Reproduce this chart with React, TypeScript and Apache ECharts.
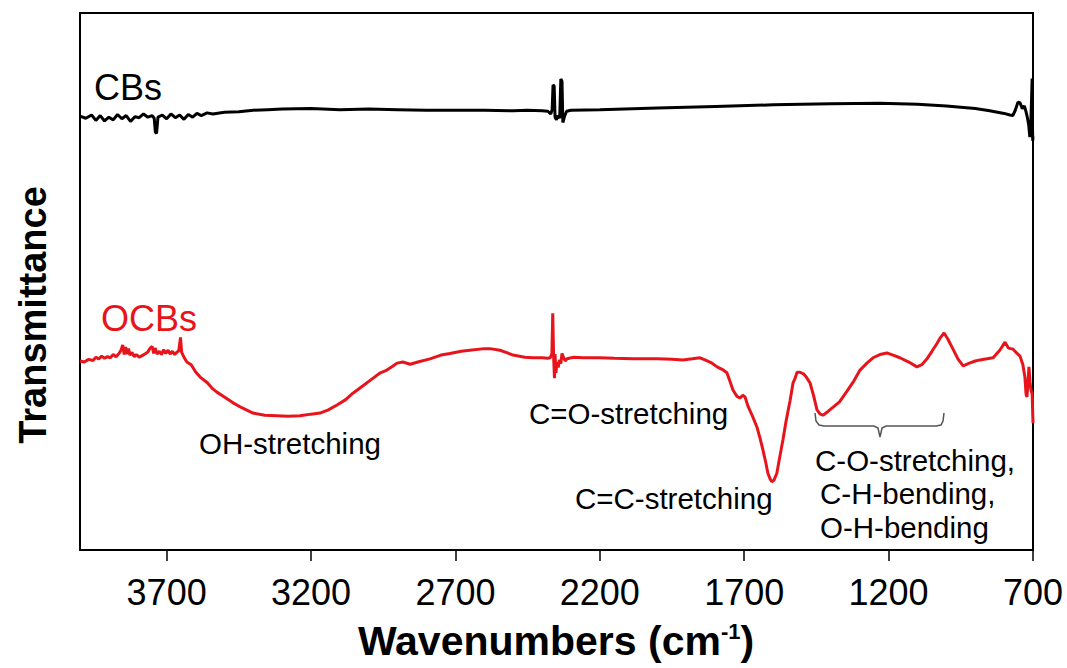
import React, { useEffect, useRef } from "react";
import * as echarts from "echarts";

// FTIR spectra: [wavenumber (cm-1), transmittance (a.u.)]
const cbsSpectrum: [number, number][] = [
  [4000, 80.8], [3980, 80.4], [3960, 81.0], [3945, 80.0], [3930, 80.9], [3915, 79.9],
  [3900, 80.6], [3885, 80.1], [3870, 81.1], [3855, 80.3], [3840, 80.9], [3825, 79.8],
  [3810, 80.7], [3795, 80.5], [3780, 81.2], [3765, 80.6], [3750, 80.9], [3743, 80.4],
  [3739, 77.8], [3735, 77.6], [3730, 80.6], [3715, 81.0], [3700, 80.3], [3685, 81.2],
  [3670, 80.5], [3655, 81.0], [3640, 80.2], [3625, 81.1], [3610, 80.6], [3595, 81.3],
  [3580, 80.9], [3560, 81.4], [3540, 81.2], [3500, 81.5], [3450, 81.6], [3400, 81.9],
  [3350, 82.0], [3300, 82.1], [3200, 82.2], [3100, 82.0], [3000, 82.1], [2900, 82.0],
  [2800, 81.9], [2700, 81.9], [2600, 81.9], [2500, 81.8], [2450, 81.9], [2400, 81.8],
  [2380, 81.7], [2370, 81.2], [2365, 82.0], [2362, 86.6], [2358, 86.4], [2355, 80.6],
  [2350, 80.1], [2345, 80.9], [2339, 80.4], [2335, 87.7], [2331, 87.3], [2328, 79.6],
  [2322, 80.8], [2315, 81.7], [2300, 81.9], [2200, 82.0], [2000, 82.3], [1800, 82.6],
  [1600, 82.9], [1400, 83.1], [1230, 83.2], [1100, 83.0], [1000, 82.7], [900, 82.2],
  [850, 81.8], [800, 81.3], [780, 81.0], [770, 80.9], [762, 81.8], [752, 83.4],
  [745, 83.3], [737, 82.2], [730, 82.7], [724, 81.6], [719, 80.4], [715, 79.2],
  [711, 76.9], [708, 78.6], [705, 84.0], [703, 87.8], [702, 80.0], [701, 76.2], [700, 77.0],
];

const ocbsSpectrum: [number, number][] = [
  [4000, 35.2], [3985, 35.0], [3970, 35.5], [3955, 35.3], [3945, 35.9], [3935, 35.6],
  [3925, 36.1], [3915, 35.7], [3905, 36.0], [3895, 35.8], [3885, 36.4], [3875, 36.0],
  [3865, 36.6], [3858, 37.2], [3852, 38.2], [3847, 36.4], [3842, 37.8], [3837, 36.5],
  [3832, 37.5], [3827, 36.3], [3820, 36.8], [3812, 36.0], [3805, 36.4], [3795, 35.9],
  [3785, 36.2], [3775, 36.5], [3765, 36.9], [3757, 37.6], [3750, 37.9], [3745, 36.6],
  [3740, 37.6], [3733, 36.5], [3725, 37.0], [3718, 36.4], [3710, 37.3], [3703, 36.6],
  [3695, 37.2], [3688, 36.5], [3680, 37.0], [3672, 36.4], [3665, 36.8], [3658, 37.1],
  [3652, 39.6], [3648, 36.8], [3640, 35.9], [3630, 35.0], [3615, 34.5], [3600, 33.2],
  [3584, 32.2], [3560, 31.2], [3540, 30.0], [3526, 29.4], [3500, 28.5], [3470, 27.4],
  [3440, 26.5], [3401, 25.5], [3360, 25.1], [3318, 25.0], [3280, 24.9], [3238, 25.0],
  [3200, 25.3], [3169, 25.5], [3140, 26.1], [3110, 27.0], [3080, 28.0], [3055, 29.2],
  [3020, 30.6], [2985, 32.0], [2960, 33.0], [2937, 33.5], [2915, 34.3], [2902, 34.8],
  [2882, 35.0], [2857, 34.6], [2830, 35.0], [2788, 35.6], [2750, 36.3], [2719, 36.6],
  [2680, 37.0], [2650, 37.2], [2600, 37.5], [2580, 37.5], [2546, 37.2], [2520, 36.7],
  [2501, 36.3], [2460, 35.9], [2431, 35.8], [2400, 35.8], [2380, 35.7], [2372, 35.8],
  [2366, 36.5], [2363, 44.1], [2360, 36.0], [2357, 32.0], [2355, 36.5], [2352, 33.0],
  [2348, 35.0], [2344, 34.0], [2340, 35.4], [2335, 34.7], [2331, 36.6], [2325, 35.8],
  [2320, 35.2], [2314, 35.6], [2290, 35.9], [2258, 35.8], [2200, 35.8], [2150, 35.7],
  [2085, 35.6], [2000, 35.6], [1950, 35.5], [1912, 35.4], [1880, 35.6], [1853, 35.8],
  [1836, 35.4], [1815, 34.9], [1794, 34.1], [1775, 33.6], [1760, 33.0], [1750, 31.5],
  [1739, 29.8], [1725, 28.6], [1715, 28.3], [1705, 28.8], [1697, 28.5], [1687, 26.8],
  [1672, 25.0], [1656, 22.9], [1645, 20.8], [1635, 18.6], [1625, 16.2], [1618, 14.3],
  [1610, 13.2], [1604, 12.7], [1597, 13.0], [1587, 14.3], [1578, 17.0], [1566, 20.5],
  [1555, 24.0], [1541, 27.9], [1531, 31.1], [1525, 31.8], [1517, 33.1], [1507, 33.1],
  [1495, 32.8], [1485, 32.2], [1472, 31.1], [1460, 28.8], [1448, 26.1], [1437, 25.3],
  [1427, 25.1], [1410, 25.8], [1392, 26.6], [1370, 27.6], [1344, 29.6], [1320, 31.5],
  [1299, 33.5], [1275, 34.8], [1254, 35.8], [1230, 36.4], [1206, 36.7], [1180, 36.2],
  [1161, 35.8], [1130, 35.0], [1102, 34.1], [1085, 34.5], [1067, 35.6], [1050, 37.0],
  [1032, 38.5], [1020, 39.6], [1008, 40.4], [995, 39.3], [977, 37.4], [960, 35.6],
  [942, 34.3], [920, 34.8], [900, 35.2], [883, 35.4], [860, 35.6], [838, 35.8],
  [815, 37.2], [797, 38.7], [785, 37.6], [769, 37.4], [755, 36.6], [745, 36.1],
  [735, 34.5], [728, 32.2], [724, 29.0], [721, 28.5], [717, 31.5], [714, 34.1],
  [710, 31.0], [706, 29.5], [703, 29.2], [700, 23.6],
];

const tickValues = [3700, 3200, 2700, 2200, 1700, 1200, 700];

const FONT = "'Liberation Sans', Arial, sans-serif";
const RED = "#e8141b";

// Band assignments written onto the plot
const annotations = [
  { text: "CBs", x: 94, y: 87, size: 36, color: "#000" },
  { text: "OCBs", x: 101, y: 318, size: 36, color: RED },
  { text: "OH-stretching", x: 199, y: 443, size: 29.5, color: "#000" },
  { text: "C=O-stretching", x: 529, y: 413, size: 29.5, color: "#000" },
  { text: "C=C-stretching", x: 575, y: 498, size: 29.5, color: "#000" },
  { text: "C-O-stretching,", x: 815, y: 460, size: 29.5, color: "#000" },
  { text: "C-H-bending,", x: 820, y: 493, size: 29.5, color: "#000" },
  { text: "O-H-bending", x: 820, y: 527, size: 29.5, color: "#000" },
];

export default function App() {
  const ref = useRef<HTMLDivElement>(null);

  useEffect(() => {
    if (!ref.current) return;
    const chart = echarts.init(ref.current, undefined, { renderer: "svg" });

    const texts = annotations.map((a) => ({
      type: "text",
      x: a.x,
      y: a.y,
      style: {
        text: a.text,
        font: `${a.size}px ${FONT}`,
        fill: a.color,
        align: "left",
        verticalAlign: "middle",
      },
    }));

    chart.setOption({
      animation: false,
      backgroundColor: "#fff",
      grid: {
        left: 80,
        right: 34,
        top: 13,
        bottom: 118,
        show: true,
        borderColor: "#000",
        borderWidth: 2,
      },
      xAxis: {
        type: "value",
        min: 700,
        max: 4000,
        inverse: true,
        interval: 500,
        splitLine: { show: false },
        axisLine: { show: true, lineStyle: { color: "#000", width: 2 } },
        axisTick: {
          show: true,
          length: 11,
          inside: false,
          customValues: tickValues,
          lineStyle: { color: "#000", width: 1.5 },
        },
        axisLabel: {
          customValues: tickValues,
          formatter: (v: number) => String(v),
          margin: 24,
          fontSize: 36,
          fontFamily: FONT,
          color: "#000",
        },
      },
      yAxis: {
        type: "value",
        min: 0,
        max: 100,
        splitLine: { show: false },
        axisLine: { show: true, lineStyle: { color: "#000", width: 2 } },
        axisTick: { show: false },
        axisLabel: { show: false },
      },
      series: [
        {
          name: "CBs",
          type: "line",
          data: cbsSpectrum,
          showSymbol: false,
          lineStyle: { color: "#000", width: 3 },
          z: 3,
        },
        {
          name: "OCBs",
          type: "line",
          data: ocbsSpectrum,
          showSymbol: false,
          lineStyle: { color: RED, width: 3 },
          z: 3,
        },
      ],
      graphic: [
        ...texts,
        {
          type: "polyline",
          shape: {
            points: [
              [815, 413], [816, 421], [819, 425], [824, 426], [874, 426], [878, 428],
              [880, 437], [882, 428], [886, 426], [936, 426], [941, 425], [943, 421], [944, 413],
            ],
          },
          style: { stroke: "#555", lineWidth: 1.5, fill: null },
        },
        {
          type: "text",
          x: 33,
          y: 315,
          rotation: Math.PI / 2,
          style: {
            text: "Transmittance",
            font: `bold 38px ${FONT}`,
            fill: "#000",
            align: "center",
            verticalAlign: "middle",
          },
        },
        {
          type: "text",
          x: 556,
          y: 641,
          style: {
            text: "{a|Wavenumbers (cm}{s|-1}{a|)}",
            align: "center",
            verticalAlign: "middle",
            rich: {
              a: { font: `bold 41px ${FONT}`, fill: "#000" },
              s: { font: `bold 22px ${FONT}`, fill: "#000", padding: [0, 0, 20, 0] },
            },
          },
        },
      ],
    });

    return () => chart.dispose();
  }, []);

  return (
    <div
      ref={ref}
      style={{ position: "fixed", left: 0, top: 0, width: 1067, height: 668 }}
    />
  );
}
